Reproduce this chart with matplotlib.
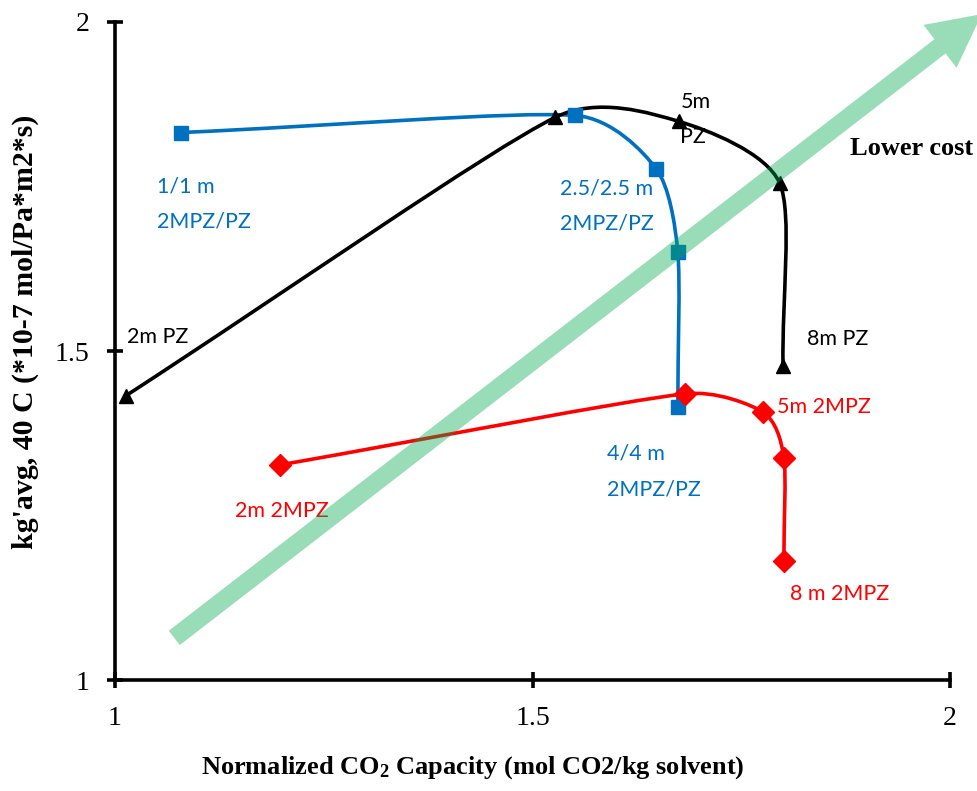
import numpy as np
import matplotlib
matplotlib.use("Agg")
import matplotlib.pyplot as plt
from matplotlib.path import Path
from matplotlib.patches import PathPatch

# normalized CO2 capacity (mol CO2/kg solvent) and kg'avg at 40 C
cap_blend = [1.079, 1.551, 1.648, 1.674, 1.674]
kg_blend = [1.832, 1.858, 1.777, 1.650, 1.415]
blend_labels = ["1/1 m\n2MPZ/PZ", "2.5/2.5 m\n2MPZ/PZ", "4/4 m\n2MPZ/PZ"]

cap_pz = [1.013, 1.527, 1.675, 1.796, 1.800]
kg_pz = [1.432, 1.855, 1.849, 1.755, 1.477]
pz_labels = ["2m PZ", "5m\nPZ", "8m PZ"]

cap_2mpz = [1.198, 1.683, 1.776, 1.801, 1.801]
kg_2mpz = [1.327, 1.435, 1.407, 1.338, 1.181]
mpz_labels = ["2m 2MPZ", "5m 2MPZ", "8 m 2MPZ"]

BLUE = "#0070C0"
RED = "#FF0000"
LABEL_FONT = "Lato"

plt.rcParams["mathtext.fontset"] = "custom"
plt.rcParams["mathtext.rm"] = "Liberation Serif:bold"
plt.rcParams["mathtext.default"] = "rm"

fig = plt.figure(figsize=(9.77, 7.91), dpi=100)
ax = fig.add_axes([0.1177, 0.1403, 0.8547, 0.8319])
ax.set_xlim(1, 2)
ax.set_ylim(1, 2)


def smooth_path(xs, ys, k=1.15, f=1 / 8):
    # smoothed line through the points: cubic Bezier pieces in screen space,
    # tangent from the neighbours, handle capped by the piece length
    pts = ax.transData.transform(np.column_stack([xs, ys]))
    n = len(pts)
    chord = [pts[min(i + 1, n - 1)] - pts[max(i - 1, 0)] for i in range(n)]
    verts = [pts[0]]
    codes = [Path.MOVETO]
    for i in range(n - 1):
        seg = np.hypot(*(pts[i + 1] - pts[i])) * k / 3
        h = []
        for j in (i, i + 1):
            c = chord[j]
            if j in (0, n - 1):
                c = c * 3  # end points: handle along the end piece
            ln = np.hypot(*c)
            h.append(c / ln * min(ln * f, seg))
        verts += [pts[i] + h[0], pts[i + 1] - h[1], pts[i + 1]]
        codes += [Path.CURVE4] * 3
    return Path(ax.transData.inverted().transform(np.array(verts)), codes)


for xs, ys, col, mk, ms in [(cap_blend, kg_blend, BLUE, "s", 10.5),
                            (cap_pz, kg_pz, "black", "^", 10.5),
                            (cap_2mpz, kg_2mpz, RED, "D", 11.5)]:
    ax.add_patch(PathPatch(smooth_path(xs, ys), fill=False, edgecolor=col,
                           lw=2.6, zorder=2, capstyle="round"))
    ax.plot(xs, ys, ls="none", marker=mk, ms=ms, color=col, mec=col, zorder=3)

# the "lower cost" direction arrow
ax.annotate("", xy=(2.038, 2.012), xytext=(1.071, 1.064),
            xycoords="data", annotation_clip=False,
            arrowprops=dict(arrowstyle="simple,head_length=1.9,head_width=1.95,tail_width=0.65",
                            mutation_scale=20, color=(0.0, 0.67, 0.31), alpha=0.4, lw=0,
                            shrinkA=0, shrinkB=0),
            zorder=4)
ax.text(1.880, 1.798, "Lower cost", fontsize=19, fontweight="bold",
        family="Liberation Serif", va="baseline", ha="left")

# y of each label is the baseline of its last line
lab = dict(fontsize=15.5, family=LABEL_FONT, va="baseline", ha="left", linespacing=1.95)
ax.text(1.050, 1.687, blend_labels[0], color=BLUE, **lab)
ax.text(1.533, 1.684, blend_labels[1], color=BLUE, **lab)
ax.text(1.589, 1.281, blend_labels[2], color=BLUE, **lab)
ax.text(1.014, 1.512, pz_labels[0], color="black", **lab)
ax.text(1.677, 1.816, pz_labels[1], color="black", **lab)
ax.text(1.829, 1.509, pz_labels[2], color="black", **lab)
ax.text(1.144, 1.248, mpz_labels[0], color=RED, **lab)
ax.text(1.793, 1.406, mpz_labels[1], color=RED, **lab)
ax.text(1.808, 1.122, mpz_labels[2], color=RED, **lab)

for s in ["top", "right"]:
    ax.spines[s].set_visible(False)
for s in ["left", "bottom"]:
    ax.spines[s].set_linewidth(2.6)
ax.set_xticks([1, 1.5, 2])
ax.set_yticks([1, 1.5, 2])
ax.set_xticklabels(["1", "1.5", "2"])
ax.set_yticklabels(["1", "1.5", "2"])
ax.tick_params(direction="inout", length=11, width=2.6, pad=13,
               labelsize=20, labelfontfamily="Liberation Serif")

ax.set_xlabel("Normalized CO$_2$ Capacity (mol CO2/kg solvent)",
              fontsize=19, fontweight="bold", family="Liberation Serif")
ax.xaxis.set_label_coords(0.428, -0.113)
ax.set_ylabel("kg'avg, 40 C (*10-7 mol/Pa*m2*s)",
              fontsize=21.5, fontweight="bold", family="Liberation Serif")
ax.yaxis.set_label_coords(-0.091, 0.529)

fig.savefig("out.png", dpi=100)
